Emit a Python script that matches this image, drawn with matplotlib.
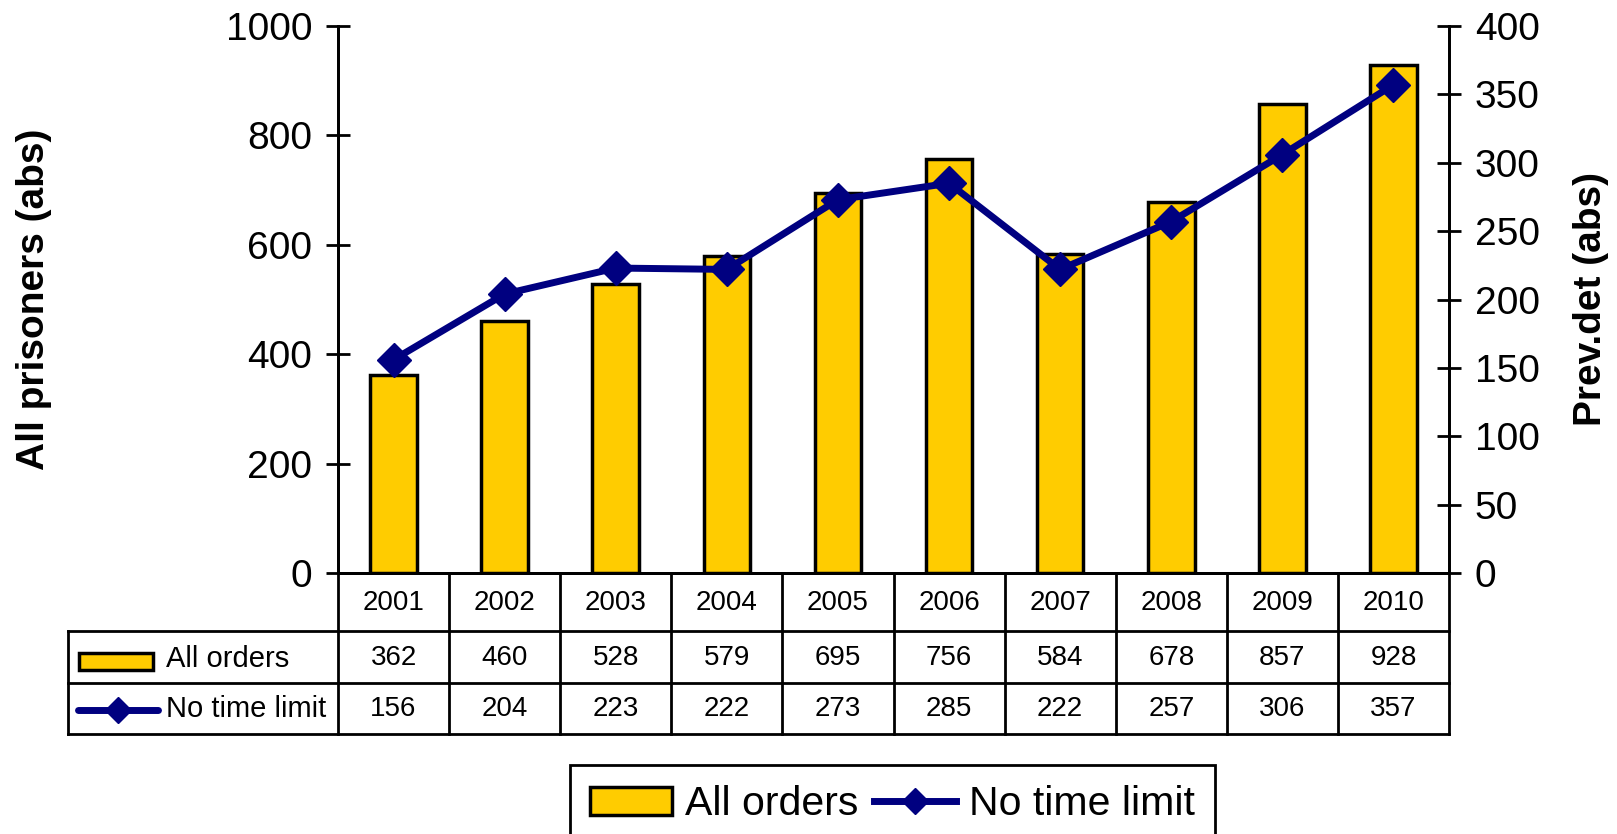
import matplotlib
matplotlib.use("Agg")
import matplotlib.pyplot as plt
from matplotlib.patches import Rectangle
from matplotlib.lines import Line2D

plt.rcParams['font.family'] = ['Liberation Sans', 'DejaVu Sans']

years = ["2001", "2002", "2003", "2004", "2005", "2006", "2007", "2008", "2009", "2010"]
all_orders = [362, 460, 528, 579, 695, 756, 584, 678, 857, 928]
no_time_limit = [156, 204, 223, 222, 273, 285, 222, 257, 306, 357]
left_ticks = [0, 200, 400, 600, 800, 1000]
right_ticks = [0, 50, 100, 150, 200, 250, 300, 350, 400]

BAR_COLOR = "#FFCC00"
LINE_COLOR = "#000080"

W, H = 1617, 834
fig = plt.figure(figsize=(W / 100, H / 100), dpi=100)

# pixel layout (full size)
ax_l, ax_r, ax_t, ax_b = 338, 1449, 26, 573
tab_l, tab_b = 68, 734
row_edges = [573, 631, 683, 734]

ax = fig.add_axes([ax_l / W, 1 - ax_b / H, (ax_r - ax_l) / W, (ax_b - ax_t) / H])
x = list(range(len(years)))
ax.bar(x, all_orders, width=0.42, color=BAR_COLOR, edgecolor="black", linewidth=2.5, zorder=2)
ax.set_xlim(-0.5, len(years) - 0.5)
ax.set_ylim(0, 1000)
ax.set_yticks(left_ticks)
ax.set_xticks([])
ax.spines["top"].set_visible(False)
for s in ["left", "right", "bottom"]:
    ax.spines[s].set_linewidth(2)
ax.tick_params(axis="y", direction="inout", length=17, width=2, labelsize=28, pad=10)
ax.set_ylabel("All prisoners (abs)", fontsize=28, fontweight="bold")
ax.yaxis.set_label_coords(-(ax_l - 52) / (ax_r - ax_l), 0.5)

ax2 = ax.twinx()
ax2.plot(x, no_time_limit, color=LINE_COLOR, linewidth=5, marker="D", markersize=17, zorder=3)
ax2.set_ylim(0, 400)
ax2.set_yticks(right_ticks)
ax2.spines["top"].set_visible(False)
for s in ["left", "right", "bottom"]:
    ax2.spines[s].set_linewidth(2)
ax2.tick_params(axis="y", direction="inout", length=17, width=2, labelsize=28, pad=10)
ax2.set_ylabel("Prev.det (abs)", fontsize=28, fontweight="bold")
ax2.yaxis.set_label_coords((1573 - ax_l) / (ax_r - ax_l), 0.5)

# data table below the plot
n = len(years)
cat_px = (ax_r - ax_l) / n
left_w = (ax_l - tab_l) / cat_px
tax = fig.add_axes([tab_l / W, 1 - tab_b / H, (ax_r - tab_l) / W, (tab_b - ax_b) / H])
tax.set_xlim(-0.5 - left_w, n - 0.5)
tax.set_ylim(tab_b, ax_b)
tax.axis("off")
lw = 2
tax.plot([-0.5, n - 0.5], [row_edges[0]] * 2, color="black", lw=lw, clip_on=False)
for yy in row_edges[1:]:
    tax.plot([-0.5 - left_w, n - 0.5], [yy, yy], color="black", lw=lw, clip_on=False)
for i in range(n + 1):
    tax.plot([i - 0.5, i - 0.5], [row_edges[0], row_edges[-1]], color="black", lw=lw, clip_on=False)
tax.plot([-0.5 - left_w] * 2, [row_edges[1], row_edges[-1]], color="black", lw=lw, clip_on=False)

mids = [(row_edges[k] + row_edges[k + 1]) / 2 + 1 for k in range(3)]
for i in range(n):
    tax.text(i, mids[0], years[i], ha="center", va="center", fontsize=20)
    tax.text(i, mids[1], str(all_orders[i]), ha="center", va="center", fontsize=20)
    tax.text(i, mids[2], str(no_time_limit[i]), ha="center", va="center", fontsize=20)

px = lambda p: (p - ax_l) / cat_px - 0.5
tax.add_patch(Rectangle((px(79), 653), px(153) - px(79), 17, facecolor=BAR_COLOR,
                        edgecolor="black", lw=2.5, clip_on=False))
tax.text(px(166), mids[1] + 1, "All orders", ha="left", va="center", fontsize=21)
tax.plot([px(78), px(158)], [710, 710], color=LINE_COLOR, lw=5, solid_capstyle="round",
         clip_on=False)
tax.plot([(px(78) + px(158)) / 2], [710], marker="D", color=LINE_COLOR, markersize=13,
         clip_on=False)
tax.text(px(166), mids[2], "No time limit", ha="left", va="center", fontsize=21)

# bottom legend
handles = [Rectangle((0, 0), 1, 1, facecolor=BAR_COLOR, edgecolor="black", lw=2.5),
           Line2D([], [], color=LINE_COLOR, lw=5, marker="D", markersize=13)]
leg = fig.legend(handles, ["All orders", "No time limit"], ncol=2, loc="upper left",
                 bbox_to_anchor=(570 / W, 1 - 765 / H), fontsize=29.5, frameon=True,
                 fancybox=False, framealpha=1, handlelength=2.0, handletextpad=0.3,
                 columnspacing=0.4, borderpad=0.5, borderaxespad=0)
leg.get_frame().set_edgecolor("black")
leg.get_frame().set_linewidth(2)

fig.savefig("out.png", dpi=100)
